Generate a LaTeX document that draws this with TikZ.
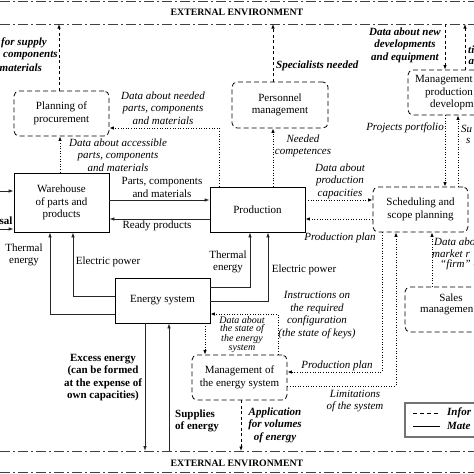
\documentclass[tikz,border=0pt]{standalone}
\usepackage{fontspec}
\setmainfont{Liberation Serif}
\usetikzlibrary{arrows.meta}
\begin{document}
\begin{tikzpicture}[x=1pt,y=-1pt,
  every node/.style={inner sep=0pt, font=\fontsize{11}{12.5}\selectfont},
  matbox/.style={draw, line width=0.8pt, minimum width=95pt, minimum height=45pt, align=center},
  infobox/.style={draw, line width=0.8pt, dash pattern=on 5pt off 3pt, rounded corners=5pt, minimum width=95pt, minimum height=45pt, align=center},
  mat/.style={line width=0.8pt, draw=black!85, -{Latex[length=5pt,width=3.5pt]}},
  info/.style={line width=1pt, dash pattern=on 1pt off 1.6pt, -{Latex[length=4.5pt,width=3.5pt]}},
  envar/.style={line width=0.8pt, dash pattern=on 3pt off 2.5pt, -{Latex[length=4.5pt,width=3.5pt]}},
  envline/.style={line width=0.9pt, draw=black!75, dash pattern=on 10pt off 3pt on 2pt off 3pt},
  it/.style={font=\fontsize{11}{12.5}\selectfont\itshape, align=center},
  bi/.style={font=\fontsize{11}{12.5}\selectfont\bfseries\itshape, align=center},
  bf/.style={font=\fontsize{11}{12.5}\selectfont\bfseries, align=center},
  tx/.style={align=center},
]
\useasboundingbox (0,0) rectangle (474,474);
\clip (0,0) rectangle (474,474);
\fill[white] (0,0) rectangle (474,474);

% environment lines
\coordinate (envA) at (0,1);   \coordinate (envB) at (474,1);
\coordinate (envC) at (0,24);  \coordinate (envD) at (474,24);
\coordinate (envE) at (0,451); \coordinate (envF) at (474,451);
\coordinate (envG) at (0,472); \coordinate (envH) at (474,472);
\draw[envline] (envA) -- (envB);
\draw[envline] (envC) -- (envD);
\draw[envline] (envE) -- (envF);
\draw[envline] (envG) -- (envH);
\node[font=\fontsize{9.8}{11}\selectfont\bfseries] (envtop) at (237,12) {EXTERNAL ENVIRONMENT};
\node[font=\fontsize{9.8}{11}\selectfont\bfseries] (envbot) at (237,463) {EXTERNAL ENVIRONMENT};

% boxes
\node[matbox, minimum height=59pt] (wh) at (61.5,202.5) {Warehouse\\of parts and\\products};
\node[infobox] (plan) at (61.5,113.5) {Planning of\\procurement};
\node[matbox] (prod) at (257.5,209.5) {Production};
\node[infobox] (sched) at (420.5,209.5) {Scheduling and\\scope planning};
\node[infobox, minimum width=96pt, minimum height=46pt] (pers) at (280,105) {Personnel\\management};
\node[infobox] (mdev) at (455.5,92.5) {};
\node[tx, anchor=west] (mdev1) at (415,80) {Management};
\node[tx, anchor=west] (mdev2) at (425,93) {production s};
\node[tx, anchor=west] (mdev3) at (430,105) {developme};
\node[infobox] (sales) at (452.5,309.5) {};
\node[tx] (sales1) at (451,298) {Sales};
\node[tx, anchor=west] (sales2) at (420,311) {managemen};
\node[matbox] (en) at (162.5,300.5) {Energy system};
\node[infobox] (me) at (239.5,377.5) {Management of\\the energy system};

% legend
\node[draw=black!55, line width=1.4pt, minimum width=95pt, minimum height=34pt] (leg) at (452.5,420) {};
\coordinate (la) at (413,413); \coordinate (lb) at (440,413);
\coordinate (lc) at (413,426); \coordinate (ld) at (440,426);
\draw[line width=0.8pt, dash pattern=on 4pt off 3pt] (la) -- (lb);
\draw[line width=0.8pt] (lc) -- (ld);
\node[bi, anchor=west] (legi) at (447,413) {Infor};
\node[bi, anchor=west] (legm) at (447,425.5) {Mate};

% connectors: procurement
\coordinate (p1) at (59,24);
\draw[envar] (p1 |- plan.north) -- (p1);
\coordinate (p2) at (60,0);
\draw[info] (p2 |- wh.north) -- (p2 |- plan.south);
\coordinate (p3) at (219,128);
\draw[info] (p3 |- prod.north) -- (p3) -- (p3 -| plan.east);

% warehouse <-> production
\coordinate (p4) at (0,200);
\draw[mat] (p4 -| wh.east) -- (p4 -| prod.west);
\coordinate (p5) at (0,219);
\draw[mat] (p5 -| prod.west) -- (p5 -| wh.east);

% left inputs
\coordinate (in1) at (0,191);
\draw[mat] (in1) -- (in1 -| wh.west);
\coordinate (in2) at (0,229);
\draw[mat] (in2) -- (in2 -| wh.west);
\node[bf, anchor=west] (sal) at (-0.5,221) {sal};

% energy -> warehouse
\coordinate (t1) at (50,314);
\draw[mat] (t1 -| en.west) -- (t1) -- (t1 |- wh.south);
\coordinate (e1) at (73,296);
\draw[mat] (e1 -| en.west) -- (e1) -- (e1 |- wh.south);

% energy -> production
\coordinate (t2) at (250,287);
\draw[mat] (t2 -| en.east) -- (t2) -- (t2 |- prod.south);
\coordinate (e2) at (268,301);
\draw[mat] (e2 -| en.east) -- (e2) -- (e2 |- prod.south);

% excess and supplies
\coordinate (x1) at (145,451);
\draw[mat] (x1 |- en.south) -- (x1);
\coordinate (s1) at (169,451);
\draw[mat] (s1) -- (s1 |- en.south);

% energy <-> management of energy system
\coordinate (d1) at (205,0);
\draw[info] (d1 |- en.south) -- (d1 |- me.north);
\coordinate (d2) at (278,314);
\draw[info] (d2 |- me.north) -- (d2) -- (d2 -| en.east);

% scheduling <-> management of energy
\coordinate (q1) at (382,372);
\draw[info] (q1 |- sched.south) -- (q1) -- (q1 -| me.east);
\coordinate (q2) at (396,386);
\draw[info] (q2 -| me.east) -- (q2) -- (q2 |- sched.south);

% production <-> scheduling
\coordinate (r1) at (0,200);
\draw[info] (r1 -| prod.east) -- (r1 -| sched.west);
\coordinate (r2) at (0,219);
\draw[info] (r2 -| sched.west) -- (r2 -| prod.east);

% personnel
\coordinate (u1) at (273,24);
\draw[info] (u1 |- prod.north) -- (u1 |- pers.south);
\draw[envar] (u1 |- pers.north) -- (u1);

% development management
\coordinate (v1) at (445,24);
\draw[info] (v1 |- mdev.south) -- (v1 |- sched.north);
\coordinate (v2) at (458,0);
\draw[info] (v2 |- sched.north) -- (v2 |- mdev.south);
\draw[envar] (v1) -- (v1 |- mdev.north);
\coordinate (v3) at (465,24);
\draw[envar] (v3 |- mdev.north) -- (v3);

% sales -> scheduling
\coordinate (w1) at (432,0);
\draw[info] (w1 |- sales.north) -- (w1 |- sched.south);

% application for energy
\coordinate (y1) at (241,451);
\draw[envar] (y1 |- me.south) -- (y1);

% labels
\node[bi, anchor=west] (lfs1) at (1,43) {for supply};
\node[bi, anchor=west] (lfs2) at (3,55.5) {components};
\node[bi, anchor=west] (lfs3) at (-0.5,68) {materials};
\node[it] (ldn) at (163,108) {Data about needed\\parts, components\\and materials};
\node[it] (lda) at (118,155) {Data about accessible\\parts, components\\and materials};
\node[tx] (lpc) at (162,187.5) {Parts, components\\and materials};
\node[tx] (lrp) at (157,226) {Ready products};
\node[tx] (lte1) at (24,255) {Thermal\\energy};
\node[tx] (lep1) at (108,262) {Electric power};
\node[tx] (lte2) at (228,262) {Thermal\\energy};
\node[tx] (lep2) at (304,270) {Electric power};
\node[it] (lins) at (317,315) {Instructions on\\the required\\configuration\\(the state of keys)};
\node[font=\fontsize{10}{8.5}\selectfont\itshape, align=center] (lst) at (242,334.5) {Data about\\the state of\\the energy\\system};
\node[it] (lpp2) at (337,366) {Production plan};
\node[it] (llim) at (355,401) {Limitations\\of the system};
\node[bf] (lexc) at (103,377.5) {Excess energy\\(can be formed\\at the expense of\\own capacities)};
\node[bf, align=left, anchor=west] (lsup) at (175,421) {Supplies\\of energy};
\node[bi] (lapp) at (275,425) {Application\\for volumes\\of energy};
\node[it] (lpp1) at (340,238) {Production plan};
\node[it] (ldpc) at (340,181) {Data about\\production\\capacities};
\node[bi, anchor=west] (lsn) at (276,66) {Specialists needed};
\node[it] (lnc) at (303,146) {Needed\\competences};
\node[bi] (ldnd) at (405,45) {Data about new\\developments\\and equipment};
\node[bi, anchor=west] (lti) at (468,50) {ti};
\node[bi, anchor=west] (la2) at (468.5,62) {a};
\node[it] (lpf) at (405,128) {Projects portfolio};
\node[it, anchor=west] (lsu) at (461,129) {Su};
\node[it, anchor=west] (ls2) at (466,141) {s};
\node[it, anchor=west] (lm1) at (434,242) {Data abo};
\node[it, anchor=west] (lm2) at (432,253.5) {market r};
\node[it, anchor=west] (lm3) at (440,265) {``firm'' o};
\end{tikzpicture}
\end{document}
